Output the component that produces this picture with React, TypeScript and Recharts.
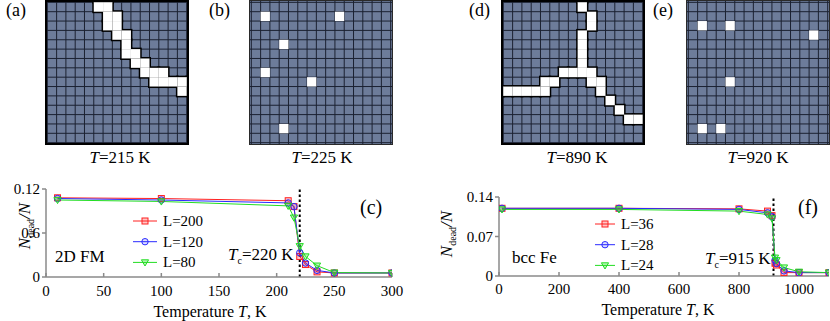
import React from 'react';
import {
  CartesianGrid,
  Legend,
  Line,
  LineChart,
  ReferenceLine,
  Scatter,
  ScatterChart,
  XAxis,
  YAxis,
} from 'recharts';

const SERIF = '"Liberation Serif", "DejaVu Serif", serif';

// ---- lattice snapshots: [column, row] of flipped (white) spins ----
const GRID_LINES = [0, 1, 2, 3, 4, 5, 6, 7, 8, 9, 10, 11, 12, 13, 14, 15];

const SPINS_215: [number, number][] = [
  [5, -1], [6, -1], [5, 0], [6, 0], [6, 1], [7, 1], [6, 2], [7, 2],
  [7, 3], [8, 3], [8, 4], [8, 5], [9, 5], [9, 6], [10, 6],
  [10, 7], [11, 7], [12, 7], [11, 8], [12, 8], [13, 8], [14, 8], [15, 8], [14, 9],
];
const SPINS_225: [number, number][] = [[1, 1], [9, 1], [3, 4], [1, 7], [6, 8], [3, 13]];
const SPINS_890: [number, number][] = [
  [8, -1], [8, 0], [9, 1], [9, 2], [8, 3], [8, 4], [8, 5], [8, 6],
  [6, 7], [7, 7], [8, 7], [9, 7], [4, 8], [5, 8], [9, 8], [10, 8],
  [-1, 9], [0, 9], [1, 9], [2, 9], [3, 9], [4, 9], [10, 9],
  [11, 10], [12, 11], [13, 12], [14, 12],
];
const SPINS_920: [number, number][] = [[1, 2], [4, 2], [13, 3], [4, 8], [1, 13], [3, 13]];

// ---- (c) 2D ferromagnet ----
const T_2D = [10, 100, 210, 215, 220, 225, 235, 250, 300];
const L200 = [0.108, 0.107, 0.104, 0.096, 0.028, 0.017, 0.007, 0.0055, 0.0055];
const L120 = [0.107, 0.105, 0.101, 0.096, 0.033, 0.019, 0.009, 0.0055, 0.0055];
const L80 = [0.105, 0.103, 0.097, 0.081, 0.042, 0.028, 0.0155, 0.006, 0.0055];
const T_2D_TICKS = [0, 50, 100, 150, 200, 250, 300];
const N_2D_TICKS = [0, 0.06, 0.12];
const N_2D_LABELS = ['0', '0.6', '0.12'];

// ---- (f) bcc Fe ----
const T_FE = [10, 400, 800, 895, 910, 920, 925, 950, 1000, 1100];
const L36 = [0.12, 0.12, 0.119, 0.115, 0.107, 0.0225, 0.0195, 0.006, 0.006, 0.006];
const L28 = [0.12, 0.12, 0.118, 0.112, 0.105, 0.028, 0.022, 0.009, 0.006, 0.006];
const L24 = [0.118, 0.118, 0.115, 0.109, 0.102, 0.0325, 0.028, 0.015, 0.0075, 0.006];
const T_FE_TICKS = [0, 200, 400, 600, 800, 1000];
const N_FE_TICKS = [0, 0.07, 0.14];
const N_FE_LABELS = ['0', '0.07', '0.14'];

const RED = '#ff2020';
const BLUE = '#2a2aff';
const GREEN = '#22dd22';
const AXIS = '#8a8a8a';

type Kind = 'square' | 'circle' | 'tri';

function Marker({ kind, cx, cy, color }: { kind: Kind; cx: number; cy: number; color: string }) {
  if (kind === 'square')
    return <rect x={cx - 3} y={cy - 3} width={6} height={6} fill={color} fillOpacity={0.25} stroke={color} strokeWidth={1} />;
  if (kind === 'circle')
    return <circle cx={cx} cy={cy} r={3.2} fill={color} fillOpacity={0.15} stroke={color} strokeWidth={1} />;
  return (
    <path
      d={`M${cx - 3.6},${cy - 2.6} L${cx + 3.6},${cy - 2.6} L${cx},${cy + 3.6} Z`}
      fill={color}
      fillOpacity={0.3}
      stroke={color}
      strokeWidth={1}
    />
  );
}

function Lattice({ left, spins, wall }: { left: number; spins: [number, number][]; wall: boolean }) {
  const w = 144;
  const h = 145;
  const cw = w / 15.5;
  const ch = h / 15.5;
  const pts = spins.map(([c, r]) => ({ x: c + 0.5, y: r + 0.5 }));
  const square = (grow: number, fill: string) => (p: any) =>
    p.cx == null ? <g /> : (
      <rect x={p.cx - cw / 2 - grow} y={p.cy - ch / 2 - grow} width={cw + 2 * grow} height={ch + 2 * grow} fill={fill} />
    );
  return (
    <div style={{ position: 'absolute', left, top: 0, width: w, height: h }}>
      <ScatterChart width={w} height={h} margin={{ top: 0, right: 0, bottom: 0, left: 0 }}>
        <CartesianGrid stroke="#1b2131" strokeWidth={1} fill="#6d7c9a" fillOpacity={1} />
        <XAxis type="number" dataKey="x" domain={[-0.25, 15.25]} ticks={GRID_LINES} interval={0} hide allowDataOverflow />
        <YAxis type="number" dataKey="y" domain={[-0.25, 15.25]} ticks={GRID_LINES} interval={0} hide reversed allowDataOverflow />
        {wall && <Scatter data={pts} shape={square(1.5, '#000')} isAnimationActive={false} />}
        <Scatter data={pts} shape={square(0, '#fff')} isAnimationActive={false} />
      </ScatterChart>
      <div
        style={{
          position: 'absolute',
          inset: 0,
          boxSizing: 'border-box',
          border: wall ? '2px solid #000' : '1px solid #2a2a2a',
          pointerEvents: 'none',
        }}
      />
    </div>
  );
}

interface SeriesDef {
  key: string;
  name: string;
  color: string;
  kind: Kind;
}

function LegendBox({ series, line }: { series: SeriesDef[]; line: number }) {
  return (
    <svg width={line + 60} height={70} style={{ overflow: 'visible' }}>
      {series.map((s, i) => {
        const y = 10 + i * 20.7;
        return (
          <g key={s.key}>
            <line x1={0} x2={line} y1={y} y2={y} stroke={s.color} strokeWidth={1} />
            <Marker kind={s.kind} cx={line / 2} cy={y} color={s.color} />
            <text x={line + 6} y={y + 5} fontFamily={SERIF} fontSize={15} fill="#000">
              {s.name}
            </text>
          </g>
        );
      })}
    </svg>
  );
}

const SERIES_2D: SeriesDef[] = [
  { key: 'a', name: 'L=200', color: RED, kind: 'square' },
  { key: 'b', name: 'L=120', color: BLUE, kind: 'circle' },
  { key: 'c', name: 'L=80', color: GREEN, kind: 'tri' },
];
const SERIES_FE: SeriesDef[] = [
  { key: 'a', name: 'L=36', color: RED, kind: 'square' },
  { key: 'b', name: 'L=28', color: BLUE, kind: 'circle' },
  { key: 'c', name: 'L=24', color: GREEN, kind: 'tri' },
];

const renderXTick = (p: any) => (
  <text x={p.x} y={p.y} dy="0.71em" textAnchor="middle" fontFamily={SERIF} fontSize={15} fill="#000">
    {p.payload.value}
  </text>
);

const makeYTick = (ticks: number[], labels: string[]) => (p: any) => (
  <text x={p.x} y={p.y} dy="0.355em" textAnchor="end" fontFamily={SERIF} fontSize={15} fill="#000">
    {labels[ticks.indexOf(p.payload.value)] ?? String(p.payload.value)}
  </text>
);

function TransitionChart({
  left,
  width,
  margin,
  xHeight,
  rows,
  series,
  xMax,
  xTicks,
  yMax,
  yTicks,
  yLabels,
  yWidth,
  tc,
  legendPos,
  legendLine,
  tickMargin,
}: {
  left: number;
  width: number;
  margin: { top: number; right: number; bottom: number; left: number };
  xHeight: number;
  rows: any[];
  series: SeriesDef[];
  xMax: number;
  xTicks: number[];
  yMax: number;
  yTicks: number[];
  yLabels: string[];
  yWidth: number;
  tc: number;
  legendPos: { left: number; top: number };
  legendLine: number;
  tickMargin: number;
}) {
  const axisLine = { stroke: AXIS, strokeWidth: 1.5 };
  return (
    <div style={{ position: 'absolute', left, top: 180 }}>
      <LineChart width={width} height={141} data={rows} margin={margin}>
        <XAxis
          dataKey="t"
          type="number"
          domain={[0, xMax]}
          ticks={xTicks}
          interval={0}
          allowDataOverflow
          height={xHeight}
          tickSize={-4}
          tickMargin={tickMargin}
          tick={renderXTick}
          axisLine={axisLine}
          tickLine={axisLine}
        />
        <XAxis
          xAxisId="top"
          orientation="top"
          type="number"
          domain={[0, xMax]}
          ticks={xTicks}
          interval={0}
          allowDataOverflow
          height={0}
          tick={false}
          tickSize={-4}
          axisLine={axisLine}
          tickLine={axisLine}
        />
        <YAxis
          type="number"
          domain={[0, yMax]}
          ticks={yTicks}
          interval={0}
          allowDataOverflow
          width={yWidth}
          tickSize={4}
          tickMargin={2}
          tick={makeYTick(yTicks, yLabels)}
          axisLine={axisLine}
          tickLine={axisLine}
        />
        <YAxis
          yAxisId="right"
          orientation="right"
          type="number"
          domain={[0, yMax]}
          ticks={yTicks}
          interval={0}
          allowDataOverflow
          width={0}
          tick={false}
          tickSize={-4}
          axisLine={axisLine}
          tickLine={axisLine}
        />
        <ReferenceLine x={tc} stroke="#000" strokeWidth={2} strokeDasharray="2.5 2.5" />
        {series.map((s) => (
          <Line
            key={s.key}
            dataKey={s.key}
            name={s.name}
            type="linear"
            stroke={s.color}
            strokeWidth={1}
            isAnimationActive={false}
            dot={(p: any) => <Marker key={`${s.key}-${p.index}`} kind={s.kind} cx={p.cx} cy={p.cy} color={s.color} />}
            activeDot={false}
          />
        ))}
        <Legend
          layout="vertical"
          align="center"
          verticalAlign="middle"
          wrapperStyle={{ left: legendPos.left, top: legendPos.top, width: legendLine + 60, height: 70 }}
          content={() => <LegendBox series={series} line={legendLine} />}
        />
      </LineChart>
    </div>
  );
}

const rows2D = T_2D.map((t, i) => ({ t, a: L200[i], b: L120[i], c: L80[i] }));
const rowsFe = T_FE.map((t, i) => ({ t, a: L36[i], b: L28[i], c: L24[i] }));

function YTitle({ x, y }: { x: number; y: number }) {
  return (
    <text x={x} y={y} transform={`rotate(-90 ${x} ${y})`} textAnchor="middle" fontFamily={SERIF} fontSize={17}>
      <tspan fontStyle="italic">N</tspan>
      <tspan fontSize={10} dy={4}>dead</tspan>
      <tspan fontStyle="italic" dy={-4}>/N</tspan>
    </text>
  );
}

function XTitle({ x, y }: { x: number; y: number }) {
  return (
    <text x={x} y={y} textAnchor="middle" fontFamily={SERIF} fontSize={16}>
      Temperature <tspan fontStyle="italic">T</tspan>, K
    </text>
  );
}

function TcLabel({ x, y, value }: { x: number; y: number; value: string }) {
  return (
    <text x={x} y={y} fontFamily={SERIF} fontSize={17}>
      <tspan fontStyle="italic">T</tspan>
      <tspan fontSize={10} dy={4}>c</tspan>
      <tspan dy={-4}>={value} K</tspan>
    </text>
  );
}

function SnapLabel({ x, value }: { x: number; value: string }) {
  return (
    <text x={x} y={163} textAnchor="middle" fontFamily={SERIF} fontSize={17}>
      <tspan fontStyle="italic">T</tspan>={value} K
    </text>
  );
}

export default function App() {
  return (
    <div
      style={{
        position: 'absolute',
        left: 0,
        top: 0,
        width: 830,
        height: 321,
        background: '#fff',
        overflow: 'hidden',
        fontFamily: SERIF,
      }}
    >
      <Lattice left={45} spins={SPINS_215} wall />
      <Lattice left={249} spins={SPINS_225} wall={false} />
      <Lattice left={501} spins={SPINS_890} wall />
      <Lattice left={686} spins={SPINS_920} wall={false} />

      <TransitionChart
        left={0}
        width={412}
        margin={{ top: 9, right: 20, bottom: 0, left: 0 }}
        xHeight={44}
        rows={rows2D}
        series={SERIES_2D}
        xMax={300}
        xTicks={T_2D_TICKS}
        yMax={0.12}
        yTicks={N_2D_TICKS}
        yLabels={N_2D_LABELS}
        yWidth={46}
        tc={220}
        legendPos={{ left: 133, top: 31 }}
        legendLine={24}
        tickMargin={12}
      />
      <TransitionChart
        left={450}
        width={380}
        margin={{ top: 17, right: 1, bottom: 0, left: 0 }}
        xHeight={45}
        rows={rowsFe}
        series={SERIES_FE}
        xMax={1100}
        xTicks={T_FE_TICKS}
        yMax={0.14}
        yTicks={N_FE_TICKS}
        yLabels={N_FE_LABELS}
        yWidth={49}
        tc={915}
        legendPos={{ left: 145, top: 34 }}
        legendLine={20}
        tickMargin={11}
      />

      <svg width={830} height={321} style={{ position: 'absolute', left: 0, top: 0, pointerEvents: 'none' }}>
        <g fontFamily={SERIF} fontSize={18}>
          <text x={6} y={16}>(a)</text>
          <text x={209} y={16}>(b)</text>
          <text x={469} y={16}>(d)</text>
          <text x={653} y={16}>(e)</text>
          <text x={360} y={214} fontSize={20}>(c)</text>
          <text x={798} y={214} fontSize={20}>(f)</text>
        </g>
        <SnapLabel x={120} value="215" />
        <SnapLabel x={322} value="225" />
        <SnapLabel x={577} value="890" />
        <SnapLabel x={758} value="920" />
        <text x={55} y={262} fontFamily={SERIF} fontSize={17}>2D FM</text>
        <text x={512} y={263} fontFamily={SERIF} fontSize={17}>bcc Fe</text>
        <TcLabel x={228} y={260} value="220" />
        <TcLabel x={705} y={264} value="915" />
        <YTitle x={30} y={226} />
        <YTitle x={452} y={234} />
        <XTitle x={210} y={317} />
        <XTitle x={658} y={315} />
      </svg>
    </div>
  );
}
